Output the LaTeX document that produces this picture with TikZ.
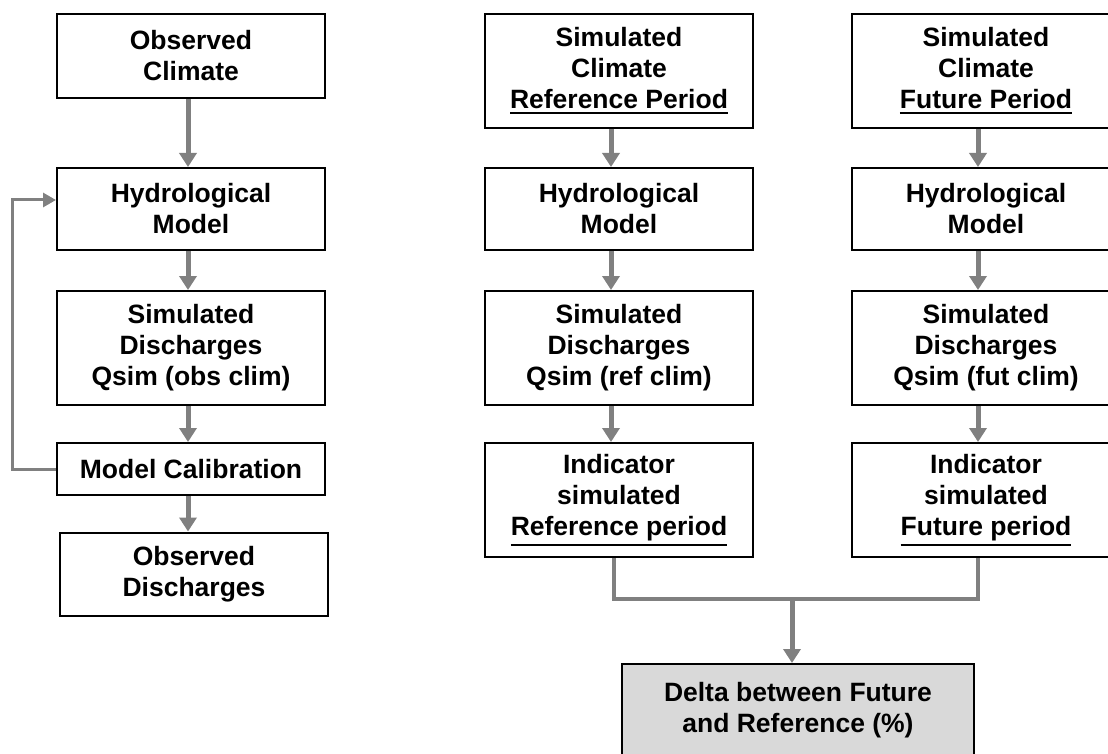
\documentclass[tikz,border=0pt]{standalone}
\usepackage{fontspec}
\setmainfont{Liberation Sans}
\usepackage{tikz}
\usetikzlibrary{arrows.meta,positioning,calc}

\definecolor{arrowgray}{RGB}{128,128,128}
\definecolor{deltagray}{RGB}{217,217,217}
\newcommand{\periodul}[1]{\vtop{\hbox{#1}\kern3pt\hrule height 2.5pt}}

\begin{document}
\begin{tikzpicture}[x=1pt,y=-1pt,
    box/.style={rectangle,draw,line width=2pt,minimum width=268pt,align=center,
      font=\fontsize{26.5}{31}\selectfont\bfseries},
    flow/.style={draw=arrowgray,line width=5pt,-{Triangle[width=17pt,length=14pt]}},
    back/.style={draw=arrowgray,line width=3pt,-{Triangle[width=14pt,length=13pt]}},
    link/.style={draw=arrowgray,line width=4.5pt}]
      \useasboundingbox (0,0) rectangle (1108,754);
      % observed chain
      \node[box,minimum height=84pt] (obsclim) at (191,56) {Observed\\Climate};
      \node[box,minimum height=82pt] (hydobs) at (191,209) {Hydrological\\Model};
      \node[box,minimum height=114pt] (qsimobs) at (191,348) {Simulated\\Discharges\\Qsim (obs clim)};
      \node[box,minimum height=52pt] (calib) at (191,469) {Model Calibration};
      \node[box,minimum height=83pt] (obsdis) at (194,574) {Observed\\Discharges};
      \draw[flow] ([xshift=-3pt]obsclim.south) -- ([xshift=-3pt]hydobs.north);
      \draw[flow] ([xshift=-3pt]hydobs.south) -- ([xshift=-3pt]qsimobs.north);
      \draw[flow] ([xshift=-3pt]qsimobs.south) -- ([xshift=-3pt]calib.north);
      \draw[flow] ([xshift=-3pt]calib.south) -- ([xshift=-3pt]calib.south |- obsdis.north);
      \draw[back] (calib.west) -- ++(-44,0) |- ([yshift=9pt]hydobs.west);
      % reference period
      \node[box,minimum height=114pt] (simref) at (619,71) {Simulated\\Climate\\\periodul{Reference Period}};
      \node[box,minimum height=82pt] (hydref) at (619,209) {Hydrological\\Model};
      \node[box,minimum height=114pt] (qsimref) at (619,348) {Simulated\\Discharges\\Qsim (ref clim)};
      \node[box,minimum height=114pt] (indref) at (619,500) {Indicator\\simulated\\\periodul{Reference period}};
      \draw[flow] ([xshift=-8pt]simref.south) -- ([xshift=-8pt]hydref.north);
      \draw[flow] ([xshift=-8pt]hydref.south) -- ([xshift=-8pt]qsimref.north);
      \draw[flow] ([xshift=-8pt]qsimref.south) -- ([xshift=-8pt]indref.north);
      % future period
      \node[box,minimum height=114pt] (simfut) at (986,71) {Simulated\\Climate\\\periodul{Future Period}};
      \node[box,minimum height=82pt] (hydfut) at (986,209) {Hydrological\\Model};
      \node[box,minimum height=114pt] (qsimfut) at (986,348) {Simulated\\Discharges\\Qsim (fut clim)};
      \node[box,minimum height=114pt] (indfut) at (986,500) {Indicator\\simulated\\\periodul{Future period}};
      \draw[flow] ([xshift=-8pt]simfut.south) -- ([xshift=-8pt]hydfut.north);
      \draw[flow] ([xshift=-8pt]hydfut.south) -- ([xshift=-8pt]qsimfut.north);
      \draw[flow] ([xshift=-8pt]qsimfut.south) -- ([xshift=-8pt]indfut.north);
      % delta
      \node[box,fill=deltagray,minimum width=352pt,minimum height=92pt] (delta) at (798,710)
        {Delta between Future\\and Reference (\%)};
      \coordinate (join) at (792,599);
      \draw[link] ([xshift=-5pt]indref.south) |- (join) -| ([xshift=-8pt]indfut.south);
      \draw[flow] (join) -- (join |- delta.north);
\end{tikzpicture}
\end{document}
